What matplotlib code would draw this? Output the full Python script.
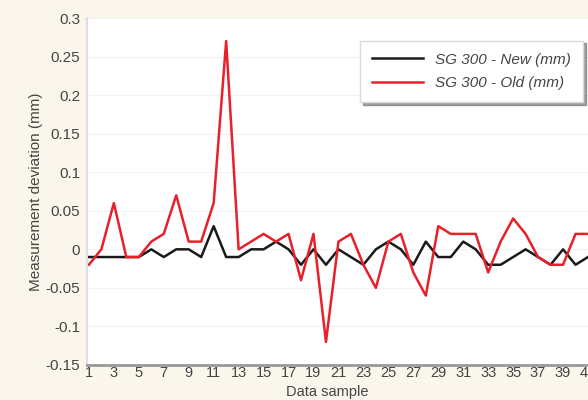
import matplotlib.pyplot as plt

samples = list(range(1, 42))
sg_new = [-0.01, -0.01, -0.01, -0.01, -0.01, 0.00, -0.01, 0.00, 0.00, -0.01,
          0.03, -0.01, -0.01, 0.00, 0.00, 0.01, 0.00, -0.02, 0.00, -0.02,
          0.00, -0.01, -0.02, 0.00, 0.01, 0.00, -0.02, 0.01, -0.01, -0.01,
          0.01, 0.00, -0.02, -0.02, -0.01, 0.00, -0.01, -0.02, 0.00, -0.02,
          -0.01]
sg_old = [-0.02, 0.00, 0.06, -0.01, -0.01, 0.01, 0.02, 0.07, 0.01, 0.01,
          0.06, 0.27, 0.00, 0.01, 0.02, 0.01, 0.02, -0.04, 0.02, -0.12,
          0.01, 0.02, -0.02, -0.05, 0.01, 0.02, -0.03, -0.06, 0.03, 0.02,
          0.02, 0.02, -0.03, 0.01, 0.04, 0.02, -0.01, -0.02, -0.02, 0.02,
          0.02]
y_ticks = [-0.15, -0.1, -0.05, 0, 0.05, 0.1, 0.15, 0.2, 0.25, 0.3]
y_labels = ['-0.15', '-0.1', '-0.05', '0', '0.05', '0.1', '0.15', '0.2', '0.25', '0.3']
x_ticks = list(range(1, 42, 2))

plt.rcParams['font.family'] = ['Liberation Sans', 'DejaVu Sans']

fig = plt.figure(figsize=(5.88, 4), dpi=100, facecolor='#faf6ec')
ax = fig.add_axes([0.148, 0.0875, 0.852, 0.8675])
ax.set_facecolor('white')

ax.plot(samples, sg_new, color='#1a1a1a', lw=1.8, label='SG 300 - New (mm)')
ax.plot(samples, sg_old, color='#e8202a', lw=1.8, label='SG 300 - Old (mm)')

ax.set_xlim(0.85, 40.7)
ax.set_ylim(-0.15, 0.3)
ax.set_yticks(y_ticks)
ax.set_yticklabels(y_labels)
ax.set_xticks(x_ticks)
ax.tick_params(length=0, labelsize=11, labelcolor='#444444')
ax.tick_params(axis='y', pad=5)
ax.tick_params(axis='x', labelsize=10.5, pad=1)
ax.grid(axis='y', color='#f2f2f6', lw=0.8)

for s in ['top', 'right']:
    ax.spines[s].set_visible(False)
ax.spines['left'].set_color('#dcdcea')
ax.spines['left'].set_linewidth(1.5)
ax.spines['bottom'].set_color('#999999')
ax.spines['bottom'].set_linewidth(2)

ax.set_ylabel('Measurement deviation (mm)', fontsize=11, color='#444444')
ax.yaxis.set_label_coords(-0.088, 0.5)
ax.set_xlabel('Data sample', fontsize=10.5, color='#444444')
ax.xaxis.set_label_coords(0.5 - 0.02, -0.058)

leg = ax.legend(loc='upper right', bbox_to_anchor=(0.99, 0.935),
                prop={'style': 'italic', 'size': 11}, frameon=True, fancybox=False,
                shadow=True, borderpad=0.8, handlelength=3.3, labelspacing=0.6,
                borderaxespad=0)
leg.get_frame().set_edgecolor('#d8d8e0')
for t in leg.get_texts():
    t.set_color('#444444')

fig.savefig('out.png', dpi=100, facecolor=fig.get_facecolor())
